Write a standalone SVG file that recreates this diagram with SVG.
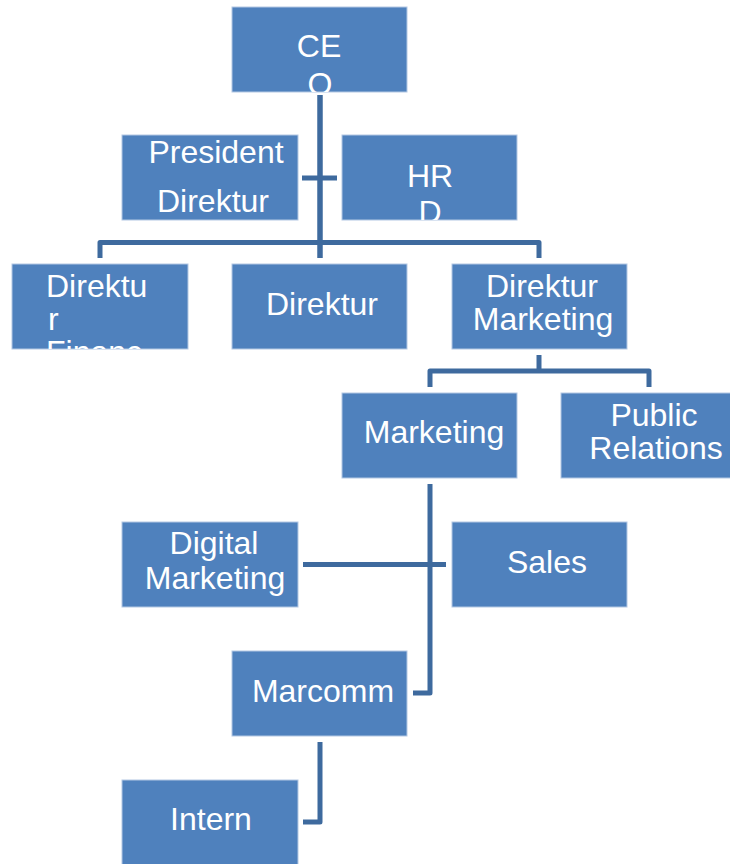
<svg xmlns="http://www.w3.org/2000/svg" width="730" height="864" viewBox="0 0 730 864">
<style>
.box{fill:#4F81BD;stroke:#B4C8E3;stroke-width:1}
.t{font-family:"Liberation Sans",Arial,sans-serif;font-size:32px;fill:#ffffff;text-anchor:middle}
.l{text-anchor:start}
.c{fill:none;stroke:#3E6A9E;stroke-width:5;stroke-linejoin:round}
</style>
<defs>
<clipPath id="cCEO"><rect x="232" y="7" width="175" height="85"/></clipPath>
<clipPath id="cHRD"><rect x="342" y="135" width="175" height="85"/></clipPath>
<clipPath id="cFin"><rect x="12" y="264" width="176" height="85"/></clipPath>
</defs>
<rect width="730" height="864" fill="#ffffff"/>
<g id="connectors">
<path class="c" d="M320 95V258" style="stroke-width:5.5"/>
<path class="c" d="M302 178H337"/>
<path class="c" d="M100 258V242.5H539V258"/>
<path class="c" d="M539 355V371"/>
<path class="c" d="M430 387V371H649V387"/>
<path class="c" d="M430 484V693H413"/>
<path class="c" d="M303 564.5H446"/>
<path class="c" d="M320 742V822H303"/>
</g>
<g id="ceo">
<rect class="box" x="232" y="7" width="175" height="85"/>
<g clip-path="url(#cCEO)">
<text class="t" x="319" y="57">CE</text>
<text class="t" x="320" y="95">O</text>
</g>
</g>
<g id="president">
<rect class="box" x="122" y="135" width="176" height="85"/>
<text class="t" x="216" y="163">President</text>
<text class="t" x="213" y="212">Direktur</text>
</g>
<g id="hrd">
<rect class="box" x="342" y="135" width="175" height="85"/>
<g clip-path="url(#cHRD)">
<text class="t" x="430" y="187">HR</text>
<text class="t" x="430" y="223">D</text>
</g>
</g>
<g id="dir-finance">
<rect class="box" x="12" y="264" width="176" height="85"/>
<g clip-path="url(#cFin)">
<text class="t l" x="46" y="297">Direktu</text>
<text class="t l" x="48" y="330">r</text>
<text class="t l" x="46" y="363">Financ</text>
</g>
</g>
<g id="direktur">
<rect class="box" x="232" y="264" width="175" height="85"/>
<text class="t" x="322" y="315">Direktur</text>
</g>
<g id="dir-marketing">
<rect class="box" x="452" y="264" width="175" height="85"/>
<text class="t" x="542" y="297">Direktur</text>
<text class="t" x="543" y="330">Marketing</text>
</g>
<g id="marketing">
<rect class="box" x="342" y="393" width="175" height="85"/>
<text class="t" x="434" y="443">Marketing</text>
</g>
<g id="public-relations">
<rect class="box" x="561" y="393" width="176" height="85"/>
<text class="t" x="654" y="426">Public</text>
<text class="t" x="656" y="459">Relations</text>
</g>
<g id="digital-marketing">
<rect class="box" x="122" y="522" width="176" height="85"/>
<text class="t" x="214" y="554">Digital</text>
<text class="t" x="215" y="589">Marketing</text>
</g>
<g id="sales">
<rect class="box" x="452" y="522" width="175" height="85"/>
<text class="t" x="547" y="573">Sales</text>
</g>
<g id="marcomm">
<rect class="box" x="232" y="651" width="175" height="85"/>
<text class="t" x="323" y="702">Marcomm</text>
</g>
<g id="intern">
<rect class="box" x="122" y="780" width="176" height="85"/>
<text class="t" x="211" y="830">Intern</text>
</g>
</svg>
